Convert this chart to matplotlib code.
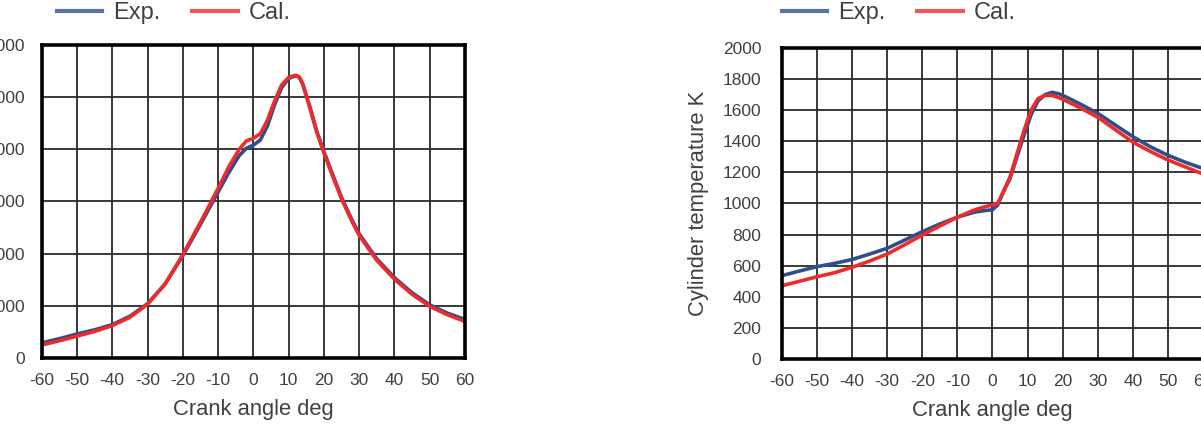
import matplotlib
matplotlib.use("Agg")
import matplotlib.pyplot as plt

plt.rcParams['font.family'] = ['Liberation Sans', 'DejaVu Sans']
plt.rcParams['axes.unicode_minus'] = False

# Left panel: cylinder pressure (y labels cut by the picture edge)
p_angle = [-60, -55, -50, -45, -40, -35, -30, -25, -20, -15, -10, -7, -4, -2, 0, 2, 4, 6, 8, 10,
           12, 13, 14, 16, 18, 20, 22, 25, 28, 30, 35, 40, 45, 50, 55, 60]
p_exp = [290, 370, 460, 540, 640, 800, 1040, 1420, 1960, 2560, 3180, 3550, 3880, 4020, 4080, 4180,
         4450, 4850, 5180, 5360, 5410, 5380, 5250, 4820, 4340, 3960, 3600, 3080, 2640, 2380,
         1900, 1540, 1250, 1020, 860, 740]
p_cal = [250, 330, 420, 510, 620, 780, 1030, 1420, 1980, 2600, 3250, 3660, 4000, 4160, 4210, 4300,
         4560, 4920, 5230, 5380, 5420, 5390, 5250, 4800, 4320, 3930, 3570, 3050, 2610, 2350,
         1870, 1510, 1220, 990, 830, 700]

# Right panel: cylinder temperature
t_angle = [-60, -55, -50, -45, -40, -35, -30, -25, -20, -15, -10, -5, -2, 0, 1.5, 3, 5, 7, 9, 11,
           13, 15, 17, 19, 21, 25, 30, 35, 40, 45, 50, 55, 60]
t_exp = [536, 566, 594, 615, 640, 675, 712, 765, 819, 868, 912, 945, 955, 960, 990, 1070, 1160,
         1300, 1440, 1570, 1660, 1700, 1715, 1705, 1685, 1640, 1580, 1505, 1430, 1365, 1310,
         1265, 1225]
t_cal = [471, 500, 529, 555, 590, 630, 675, 735, 797, 855, 912, 960, 980, 990, 1000, 1070, 1170,
         1320, 1470, 1600, 1675, 1695, 1695, 1680, 1660, 1615, 1555, 1475, 1395, 1335, 1280,
         1235, 1190]

x_ticks = list(range(-60, 61, 10))
p_ticks = list(range(0, 6001, 1000))
t_ticks = list(range(0, 2001, 200))

BLUE = "#2f4e8c"
RED = "#ee2a2a"
TXT = "#404040"

fig = plt.figure(figsize=(12.01, 4.30), dpi=100)
ax1 = fig.add_axes([0.0347, 0.1674, 0.3525, 0.728])
ax2 = fig.add_axes([0.6511, 0.1651, 0.3505, 0.7233])


def style(ax, yticks, ypad):
    ax.set_xlim(-60, 60)
    ax.set_ylim(yticks[0], yticks[-1])
    ax.set_xticks(x_ticks)
    ax.set_yticks(yticks)
    ax.grid(True, color="#2a2a2a", lw=1.3)
    ax.set_axisbelow(True)
    for s in ax.spines.values():
        s.set_linewidth(2.6)
        s.set_color("black")
    ax.tick_params(axis="x", length=0, pad=11, labelsize=12.5, labelcolor=TXT)
    ax.tick_params(axis="y", length=0, pad=ypad, labelsize=12.5, labelcolor=TXT)
    ax.set_xlabel("Crank angle deg", fontsize=15.8, color=TXT, labelpad=8)


ax1.plot(p_angle, p_exp, color=BLUE, lw=2.6, label="Exp.")
ax1.plot(p_angle, p_cal, color=RED, lw=2.6, label="Cal.")
style(ax1, p_ticks, 12)

ax2.plot(t_angle, t_exp, color=BLUE, lw=2.6, label="Exp.")
ax2.plot(t_angle, t_cal, color=RED, lw=2.6, label="Cal.")
style(ax2, t_ticks, 15)
ax2.set_ylabel("Cylinder temperature K", fontsize=15.8, color=TXT, labelpad=10)

for ax, x0 in [(ax1, 56.7), (ax2, 781.7)]:
    leg = ax.legend(loc="center left", bbox_to_anchor=(x0 / 1201, 1 - 13 / 430),
                    bbox_transform=fig.transFigure, ncol=2, frameon=False,
                    fontsize=17, handlelength=1.92, handletextpad=0.48,
                    columnspacing=1.35, borderpad=0, borderaxespad=0)
    for t in leg.get_texts():
        t.set_color(TXT)
    for h in leg.get_lines():
        h.set_linewidth(3)
        h.set_alpha(0.8)

fig.savefig("out.png", dpi=100)
